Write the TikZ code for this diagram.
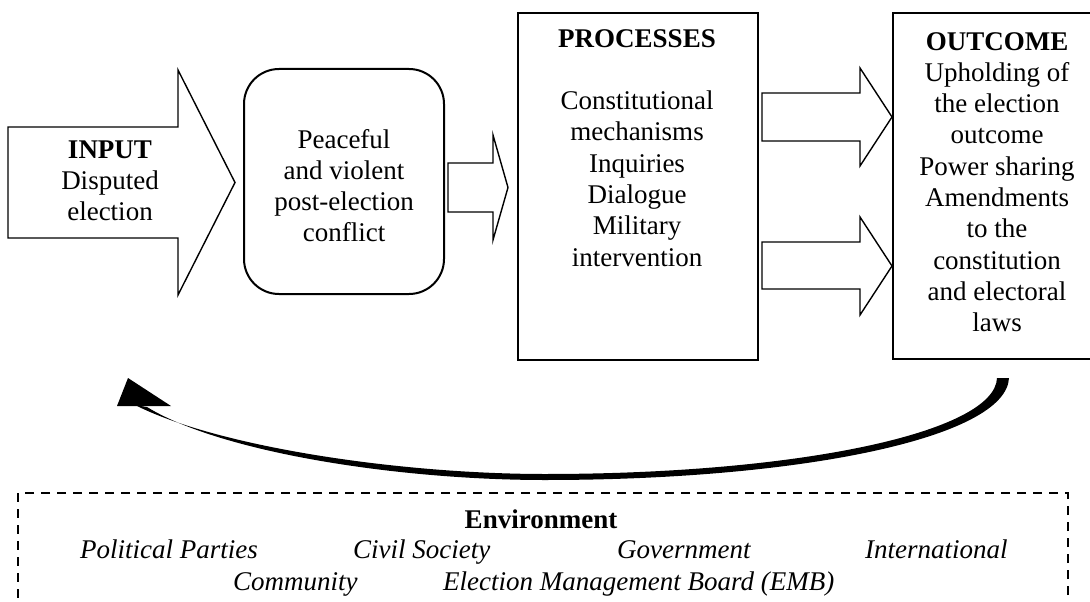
\documentclass[tikz,border=0pt]{standalone}
\usepackage{fontspec}
\setmainfont{Liberation Serif}
\begin{document}
\begin{tikzpicture}[x=1pt,y=-1pt,
  every node/.style={font=\fontsize{27}{31.3}\selectfont, inner sep=0pt},
  blockarrow/.style={draw, line width=1.4pt, line join=miter, fill=white},
  box/.style={draw, line width=2pt},
  txt/.style={align=center, anchor=base},
  envitem/.style={anchor=base west, font=\fontsize{27}{31.3}\selectfont\itshape}]
\useasboundingbox (0,0) rectangle (1090,602);
\clip (0,0) rectangle (1090,602);

% boxes
\node[box, rounded corners=35pt, minimum width=200pt, minimum height=225pt, anchor=north west] (conf) at (243,68) {};
\node[box, minimum width=240pt, minimum height=347pt, anchor=north west] (proc) at (517,12) {};
\node[box, minimum width=210pt, minimum height=346pt, anchor=north west] (out) at (892,12) {};
\node[draw, dash pattern=on 9pt off 7pt, line width=2pt, minimum width=1050pt, minimum height=140pt, anchor=north west] (env) at (17,492) {};

% block arrows
\draw[blockarrow] (8,127) -- (178,127) -- (178,70) -- (235,182.5) -- (178,295) -- (178,238) -- (8,238) -- cycle;
\draw[blockarrow] (448,163) -- (493,163) -- (493,135) -- (508,187.5) -- (493,240) -- (493,212) -- (448,212) -- cycle;
\draw[blockarrow] (762,93) -- (860,93) -- (860,68) -- (892,117) -- (860,166) -- (860,141) -- (762,141) -- cycle;
\draw[blockarrow] (762,242) -- (860,242) -- (860,217) -- (892,266) -- (860,315) -- (860,289) -- (762,289) -- cycle;

% texts (base anchor = baseline of last line)
\node[txt] (tin) at (110,220.6) {\textbf{INPUT}\\Disputed\\election};
\node[txt] (tconf) at (344,241.9) {Peaceful\\and violent\\post-election\\conflict};
\node[txt] (tproc) at (637,266.1) {\textbf{PROCESSES}\\[31.3pt]Constitutional\\mechanisms\\Inquiries\\Dialogue\\Military\\intervention};
\node[txt] (tout) at (997,331.7) {\textbf{OUTCOME}\\Upholding of\\the election\\outcome\\Power sharing\\Amendments\\to the\\constitution\\and electoral\\laws};

% feedback arrow
\coordinate (fbstart) at (1003,378);
\coordinate (fbend) at (141,406);
\fill (1009,378) .. controls (1006,438) and (800,480) .. (545,480)
      .. controls (400,480) and (222,453) .. (147,407) -- (135,405)
      .. controls (218,447) and (400,474) .. (545,474)
      .. controls (800,474) and (995,432) .. (997,378) -- cycle;
\fill (128,378) -- (117,406) -- (171,406) -- cycle;

% environment
\node[anchor=base] (envt) at (541,528) {\textbf{Environment}};
\node[envitem] (e1) at (80,558) {Political Parties};
\node[envitem] (e2) at (353,558) {Civil Society};
\node[envitem] (e3) at (617,558) {Government};
\node[envitem] (e4) at (865,558) {International};
\node[envitem] (e5) at (233,590) {Community};
\node[envitem] (e6) at (443,590) {Election Management Board (EMB)};
\end{tikzpicture}
\end{document}
